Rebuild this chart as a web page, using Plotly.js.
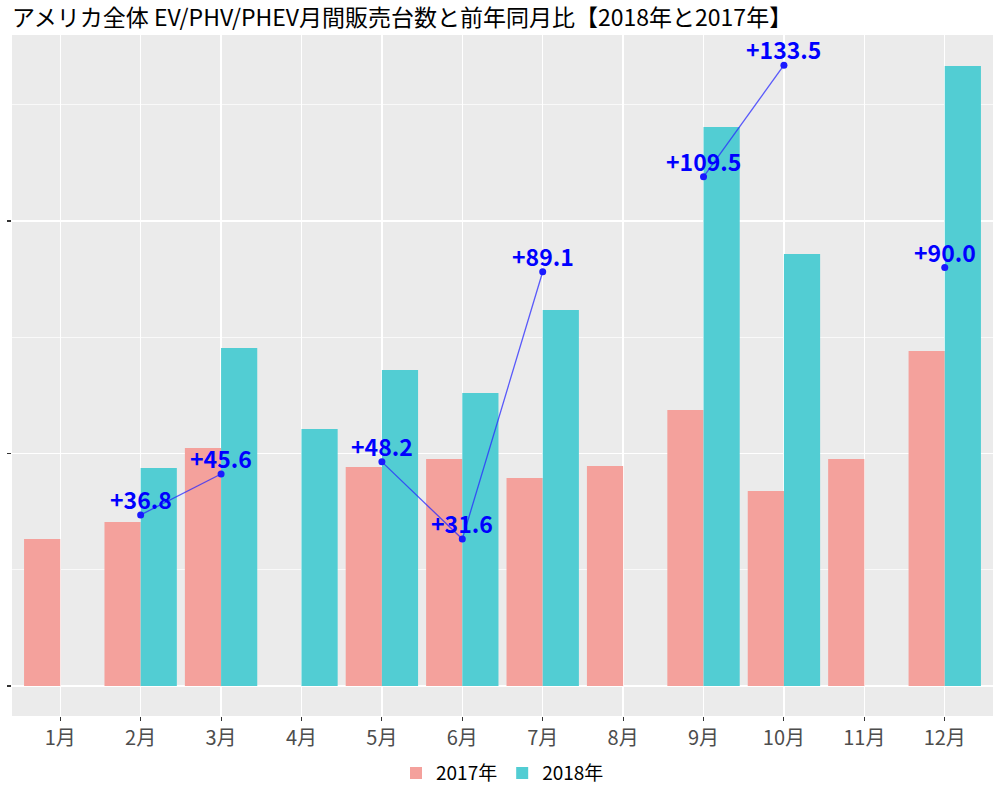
<!DOCTYPE html>
<html>
<head>
<meta charset="utf-8">
<script src="https://cdn.plot.ly/plotly-3.0.1.min.js"></script>
<style>html,body{margin:0;padding:0;background:#fff;}#chart{width:1000px;height:800px;}</style>
</head>
<body>
<div id="chart"></div>
<script>
// Data
var months = [1, 2, 3, 4, 5, 6, 7, 8, 9, 10, 11, 12];
var monthLabels = ["1月", "2月", "3月", "4月", "5月", "6月", "7月", "8月", "9月", "10月", "11月", "12月"];
var sales2017 = [6320, 7050, 10240, null, 9420, 9760, 8950, 9460, 11870, 8390, 9760, 14410];
var sales2018 = [null, 9380, 14540, 11050, 13590, 12600, 16170, null, 24040, 18580, null, 26670];
var yoyPct = [null, 36.8, 45.6, null, 48.2, 31.6, 89.1, null, 109.5, 133.5, null, 90.0];
var pctScale = 200; // percent plotted on the sales axis

var pctY = yoyPct.map(function (p) { return p === null ? null : p * pctScale; });

var font = "Noto Sans CJK JP, Noto Sans, sans-serif";

var traces = [
  {
    type: "bar", name: "2017年", x: months, y: sales2017,
    marker: { color: "#F4A19C" }, hoverinfo: "skip"
  },
  {
    type: "bar", name: "2018年", x: months, y: sales2018,
    marker: { color: "#52CDD3" }, hoverinfo: "skip"
  },
  {
    type: "scatter", mode: "lines+markers", x: months, y: pctY,
    line: { color: "rgba(40,40,255,0.75)", width: 1.3 },
    marker: { color: "#1a1aff", size: 7 },
    connectgaps: false, showlegend: false, cliponaxis: false, hoverinfo: "skip"
  }
];

var annotations = [];
months.forEach(function (m, i) {
  if (yoyPct[i] === null) return;
  annotations.push({
    x: m, y: pctY[i], xref: "x", yref: "y",
    text: "+" + yoyPct[i].toFixed(1), showarrow: false,
    yshift: 16, xanchor: "center", yanchor: "middle",
    font: { family: font, size: 23, color: "#0000FF", weight: "bold" }
  });
});

var layout = {
  width: 1000, height: 800,
  margin: { l: 12, r: 7, t: 35, b: 84 },
  paper_bgcolor: "#FFFFFF",
  plot_bgcolor: "#EBEBEB",
  font: { family: font, color: "#4D4D4D" },
  title: {
    text: "アメリカ全体 EV/PHV/PHEV月間販売台数と前年同月比【2018年と2017年】",
    font: { family: font, size: 23, color: "#000000", weight: "normal" },
    x: 0, xref: "paper", xanchor: "left",
    y: 0.977, yref: "container", yanchor: "middle"
  },
  annotations: annotations,
  barmode: "group", bargap: 0.1, bargroupgap: 0,
  xaxis: {
    range: [0.4, 12.6], tickmode: "array", tickvals: months, ticktext: monthLabels,
    showgrid: true, gridcolor: "#FFFFFF", gridwidth: 1.4,
    zeroline: false, showline: false,
    ticks: "outside", ticklen: 4, tickcolor: "#333333", tickwidth: 1.1,
    tickfont: { family: font, size: 20, color: "#4D4D4D" }
  },
  yaxis: {
    range: [-1290, 28000], tickmode: "array", tickvals: [0, 10000, 20000],
    showticklabels: false,
    showgrid: true, gridcolor: "#FFFFFF", gridwidth: 1.4,
    minor: { tickmode: "array", tickvals: [5000, 15000, 25000], showgrid: true, gridcolor: "#FFFFFF", gridwidth: 0.7, ticks: "" },
    zeroline: false, showline: false,
    ticks: "outside", ticklen: 4, tickcolor: "#333333", tickwidth: 1.1
  },
  legend: {
    orientation: "h", x: 0.5, xanchor: "center", y: -0.084, yanchor: "middle",
    font: { family: font, size: 19, color: "#000000" },
    itemwidth: 30, tracegroupgap: 0
  },
  showlegend: true
};

Plotly.newPlot("chart", traces, layout, { displayModeBar: false, staticPlot: true });
</script>
</body>
</html>
